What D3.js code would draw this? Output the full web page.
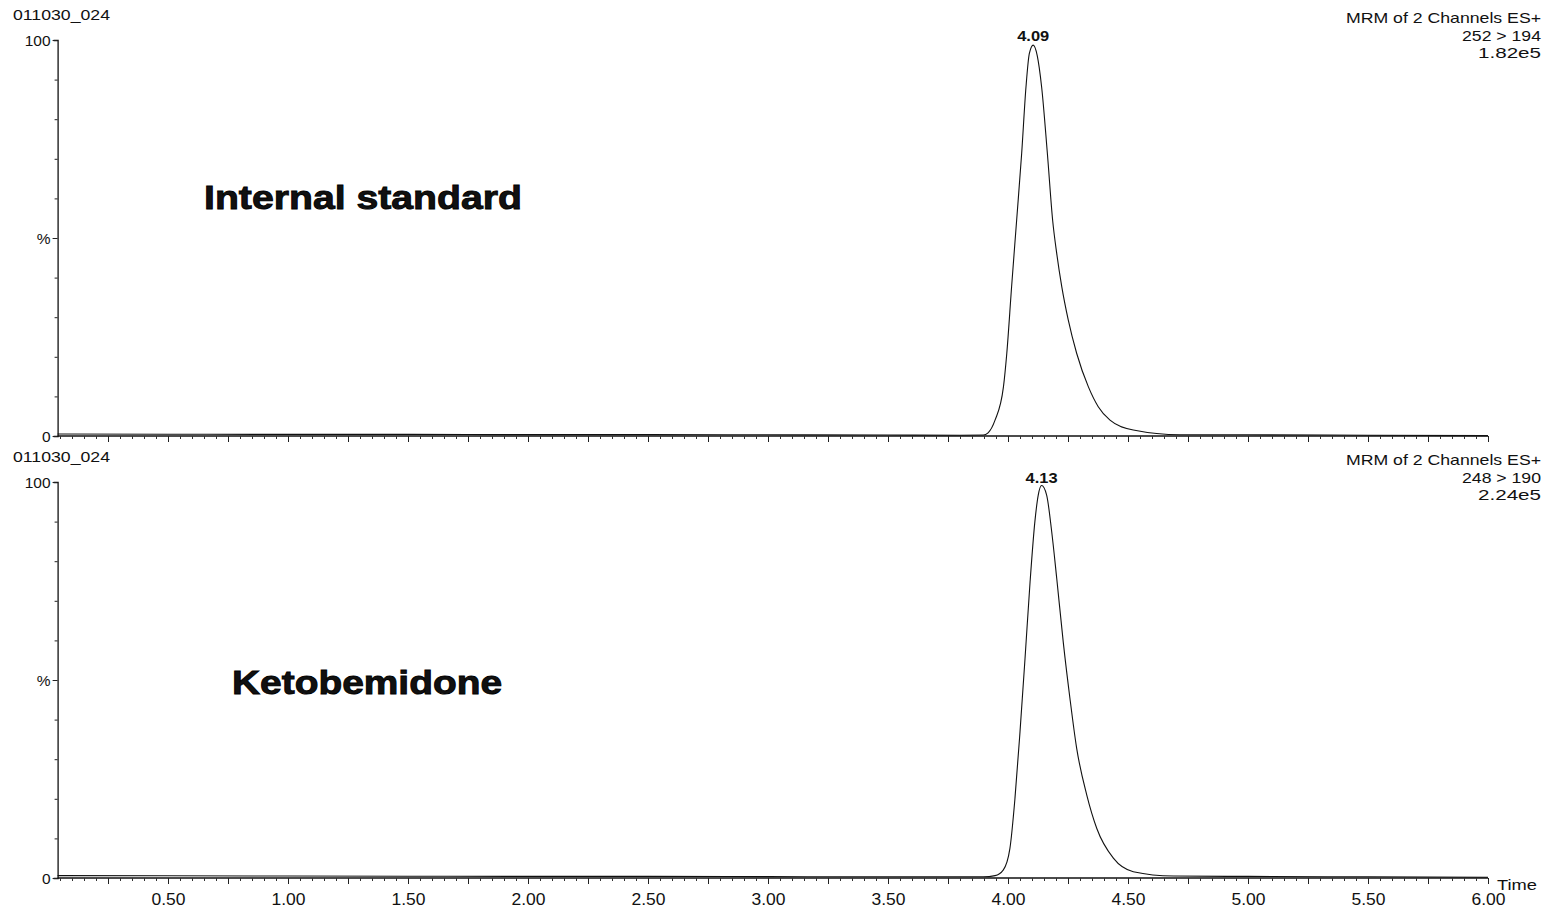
<!DOCTYPE html>
<html>
<head>
<meta charset="utf-8">
<script src="https://cdn.jsdelivr.net/npm/d3@7"></script>
<style>
  body { margin: 0; background: #fff; }
  text { font-family: "Liberation Sans", Arial, sans-serif; fill: #111; }
</style>
</head>
<body>
<svg id="chart"></svg>
<script>
// retention time (min) and intensity (%)
const isTime = [0.04, 0.5, 1.0, 1.5, 2.0, 2.5, 3.0, 3.5, 3.8, 3.897, 3.917, 3.946, 3.981, 3.995, 4.015, 4.036, 4.057, 4.075, 4.089, 4.105,
    4.122, 4.140, 4.164, 4.186, 4.203, 4.224, 4.251, 4.286, 4.335, 4.376, 4.425, 4.522, 4.717, 5.0, 5.5, 6.0];
const isValue = [0.5, 0.45, 0.4, 0.4, 0.35, 0.35, 0.3, 0.25, 0.2, 0.25, 0.8, 4.0, 12.4, 20.9, 37.7, 54.5, 71.4, 88.2, 96.6, 98.7,
    96.0, 88.2, 71.4, 54.5, 46.1, 37.7, 29.3, 20.9, 12.4, 7.4, 4.0, 1.5, 0.3, 0.3, 0.2, 0.1];

const ketTime = [0.04, 0.5, 1.0, 1.5, 2.0, 2.5, 3.0, 3.5, 3.8, 3.897, 3.946, 3.980, 4.008, 4.029, 4.05, 4.071, 4.092, 4.112, 4.126, 4.140,
    4.161, 4.182, 4.203, 4.230, 4.258, 4.286, 4.328, 4.370, 4.439, 4.522, 4.689, 5.0, 5.5, 6.0];
const ketValue = [0.6, 0.55, 0.5, 0.45, 0.4, 0.4, 0.35, 0.3, 0.3, 0.3, 0.6, 2.0, 7.5, 20.1, 36.9, 55.5, 74.8, 90.0, 96.7, 99.1,
    96.7, 87.5, 75.7, 59.7, 45.4, 32.8, 21.0, 12.5, 5.0, 1.6, 0.5, 0.4, 0.3, 0.2];

const yTicks = [0, 10, 20, 30, 40, 50, 60, 70, 80, 90, 100];
const xLabelTicks = [0.5, 1.0, 1.5, 2.0, 2.5, 3.0, 3.5, 4.0, 4.5, 5.0, 5.5, 6.0];

const panels = [
    {file: "011030_024", title: "Internal standard", mrm: "MRM of 2 Channels ES+", trans: "252 > 194", scale: "1.82e5",
        peak: "4.09", time: isTime, value: isValue, top: 40, bottom: 436, titleX: 204, titleY: 209, titleW: 318, labels: false},
    {file: "011030_024", title: "Ketobemidone", mrm: "MRM of 2 Channels ES+", trans: "248 > 190", scale: "2.24e5",
        peak: "4.13", time: ketTime, value: ketValue, top: 482, bottom: 878, titleX: 232, titleY: 694, titleW: 270, labels: true}
];

const width = 1557, height = 913;
const svg = d3.select("#chart").attr("width", width).attr("height", height);
svg.append("rect").attr("width", width).attr("height", height).attr("fill", "#fff");

const x = d3.scaleLinear().domain([0, 6]).range([48, 1488]);
const axisStart = 0.04, axisEnd = 6.0;
const minorTicks = d3.range(1, 121).map(i => i * 0.05).filter(t => t > axisStart);
const midTicks = d3.range(1, 25).map(i => i * 0.25);

// text with a fixed drawn width (the scan is a bit stretched sideways)
function label(g, tx, ty, str, size, w, anchor) {
    return g.append("text").attr("x", tx).attr("y", ty).attr("font-size", size)
        .attr("text-anchor", anchor || "start")
        .attr("textLength", w).attr("lengthAdjust", "spacingAndGlyphs").text(str);
}

panels.forEach(p => {
    const y = d3.scaleLinear().domain([0, 100]).range([p.bottom, p.top]);
    const g = svg.append("g");

    // header texts
    label(g, 13, p.top - 20, p.file, 14, 97);
    label(g, 1541, p.top - 17, p.mrm, 14.5, 195, "end");
    label(g, 1541, p.top + 1, p.trans, 14.5, 79, "end");
    label(g, 1541, p.top + 18, p.scale, 14.5, 63, "end");

    // y axis
    const yAxis = g.append("g").attr("transform", `translate(${x(axisStart)},0)`)
        .call(d3.axisLeft(y).tickValues(yTicks).tickSizeOuter(0)
            .tickSize(4)
            .tickFormat(d => d === 0 ? "0" : d === 50 ? "%" : d === 100 ? "100" : ""));
    yAxis.select(".domain").attr("stroke", "#111").attr("stroke-width", 1.3);
    yAxis.selectAll(".tick line").attr("stroke", "#222").attr("x2", d => d % 50 === 0 ? -5 : -3);
    yAxis.selectAll(".tick text").attr("font-size", 15.5).attr("x", -7).attr("dy", "0.35em")
        .attr("font-family", "Liberation Sans, Arial, sans-serif").attr("fill", "#111");

    // x axis: minor ticks, mid ticks, labels
    const xg = g.append("g").attr("transform", `translate(0,${p.bottom})`);
    xg.append("line").attr("x1", x(axisStart)).attr("x2", x(axisEnd)).attr("stroke", "#111").attr("stroke-width", 1.3);
    const minorAxis = xg.append("g").call(d3.axisBottom(x).tickValues(minorTicks).tickSize(3).tickSizeOuter(0).tickFormat(""));
    minorAxis.select(".domain").remove();
    minorAxis.selectAll(".tick line").attr("stroke", "#333");
    const midAxis = xg.append("g").call(d3.axisBottom(x).tickValues(midTicks).tickSize(6).tickSizeOuter(0).tickFormat(""));
    midAxis.select(".domain").remove();
    midAxis.selectAll(".tick line").attr("stroke", "#222");
    if (p.labels) {
        const labAxis = xg.append("g").call(d3.axisBottom(x).tickValues(xLabelTicks).tickSize(0).tickPadding(16)
            .tickFormat(d3.format(".2f")));
        labAxis.select(".domain").remove();
        labAxis.selectAll(".tick text").attr("font-size", 16)
            .attr("textLength", 34).attr("lengthAdjust", "spacingAndGlyphs")
            .attr("font-family", "Liberation Sans, Arial, sans-serif").attr("fill", "#111");
        label(g, 1497, p.bottom + 12, "Time", 15.5, 40);
    }

    // trace
    const pts = p.time.map((t, i) => [t, p.value[i]]);
    g.append("path").datum(pts)
        .attr("fill", "none").attr("stroke", "#111").attr("stroke-width", 1.1)
        .attr("d", d3.line().x(d => x(d[0])).y(d => y(d[1])).curve(d3.curveMonotoneX));

    // peak label
    const peakIdx = d3.maxIndex(p.value);
    label(g, x(p.time[peakIdx]), p.top + 1, p.peak, 14, 32, "middle").attr("font-weight", "bold");

    // compound name
    g.append("text").attr("x", p.titleX).attr("y", p.titleY)
        .attr("font-size", 34).attr("font-weight", 900)
        .attr("textLength", p.titleW).attr("lengthAdjust", "spacingAndGlyphs")
        .style("font-family", "'Liberation Sans', Arial, sans-serif").style("stroke", "#000").style("stroke-width", 0.9)
        .text(p.title);
});
</script>
</body>
</html>
